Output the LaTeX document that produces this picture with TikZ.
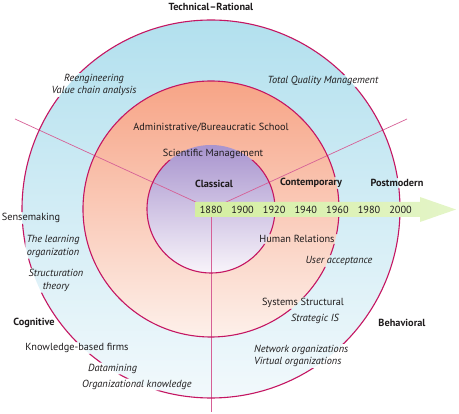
\documentclass[tikz,border=0pt]{standalone}
\usepackage{fontspec}
\setmainfont{PT Sans}
\usepackage{tikz}
\usetikzlibrary{backgrounds}

\definecolor{inkgray}{RGB}{30,27,28}
\definecolor{ringline}{RGB}{196,22,98}
\definecolor{spokepink}{RGB}{214,96,150}
\definecolor{outertop}{RGB}{178,224,238}
\definecolor{outerbot}{RGB}{242,249,252}
\definecolor{midtop}{RGB}{247,164,134}
\definecolor{midbot}{RGB}{253,240,234}
\definecolor{innertop}{RGB}{168,148,206}
\definecolor{innerbot}{RGB}{248,244,250}
\definecolor{arrowgreen}{RGB}{212,238,160}
\definecolor{arrowtip}{RGB}{228,245,200}

\begin{document}
\begin{tikzpicture}[x=1pt,y=-1pt,
    every node/.style={font=\fontsize{10.3}{12.5}\selectfont},
    lbl/.style={inner sep=1pt, text=inkgray},
    itlbl/.style={lbl, font=\fontsize{10.3}{12.5}\selectfont\itshape},
    hdlbl/.style={lbl, font=\fontsize{10.3}{12.5}\selectfont\bfseries},
    yearlbl/.style={inner sep=0pt, text=inkgray},
    ring/.style={draw=ringline, line width=1.1pt},
    spoke/.style={draw=spokepink, line width=0.7pt}]
  \useasboundingbox (0,0) rectangle (459,414);
  \coordinate (c) at (211,209);
  \coordinate (spokeleft) at (15,119);
  \coordinate (spokeright) at (407,119);
  \coordinate (spokedown) at (211,412);

  % time arrow
  \shade[left color=arrowgreen, right color=arrowtip] (195,202) -- (420,202) -- (420,197)
    -- (456,209.5) -- (420,222) -- (420,217) -- (195,217) -- cycle;
  \foreach \yr [count=\i from 0] in {1880,1900,...,2000}
    \node[yearlbl] (y\yr) at ({211+31.6*\i},209.5) {\yr};

  % labels
  \node[hdlbl] (techrat) at (211,7) {Technical--Rational};
  \node[itlbl, align=center] (reeng) at (94,85) {Reengineering\\Value chain analysis};
  \node[itlbl] (tqm) at (323,81) {Total Quality Management};
  \node[lbl] (admin) at (211,128) {Administrative/Bureaucratic School};
  \node[lbl] (sci) at (213,154) {Scientific Management};
  \node[hdlbl] (classical) at (214,184) {Classical};
  \node[hdlbl] (contemp) at (311,183) {Contemporary};
  \node[hdlbl] (postmod) at (397,183) {Postmodern};
  \node[lbl] (sense) at (31,218) {Sensemaking};
  \node[itlbl, align=center] (learn) at (53,246.5) {The learning\\organization};
  \node[itlbl, align=center] (struct) at (56,280.5) {Structuration\\theory};
  \node[hdlbl] (cognitive) at (34,323) {Cognitive};
  \node[lbl] (kbf) at (77,348) {Knowledge-based firms};
  \node[itlbl, anchor=west] (datamin) at (87,368.5) {Datamining};
  \node[itlbl, anchor=west] (orgknow) at (81,384.5) {Organizational knowledge};
  \node[lbl] (human) at (297,239) {Human Relations};
  \node[itlbl] (useracc) at (339,261) {User acceptance};
  \node[lbl] (sysstruct) at (303,303) {Systems Structural};
  \node[itlbl] (stratis) at (315,319) {Strategic IS};
  \node[hdlbl] (behav) at (402,323) {Behavioral};
  \node[itlbl, align=left, anchor=west] (netvirt) at (253,356) {Network organizations\\Virtual organizations};

  \begin{scope}[on background layer]
    \shade[top color=outertop, bottom color=outerbot] (c) circle (189pt);
    \shade[top color=midtop, bottom color=midbot] (c) circle (128pt);
    \shade[top color=innertop, bottom color=innerbot] (c) circle (64pt);
    \draw[spoke] (c) -- (spokeleft);
    \draw[spoke] (c) -- (spokeright);
    \draw[spoke] (c) -- (spokedown);
    % rings broken where the labels sit
    \begin{scope}[even odd rule]
      \clip (0,0) rectangle (459,414)
        (reeng.south west) rectangle (reeng.north east)
        (tqm.south west) rectangle (tqm.north east)
        (sci.south west) rectangle ([yshift=4pt]sci.north east)
        (contemp.south west) rectangle (contemp.north east)
        (postmod.south west) rectangle (postmod.north east)
        (sense.south west) rectangle (sense.north east)
        (learn.south west) rectangle (learn.north east)
        (struct.south west) rectangle (struct.north east)
        (kbf.south west) rectangle (kbf.north east)
        (datamin.south west) rectangle (datamin.north east)
        (orgknow.south west) rectangle (orgknow.north east)
        (human.south west) rectangle ([xshift=4pt]human.north east)
        (useracc.south west) rectangle (useracc.north east)
        (sysstruct.south west) rectangle (sysstruct.north east)
        (netvirt.south west) rectangle (netvirt.north east);
      \draw[ring] (c) circle (189pt) (c) circle (128pt) (c) circle (64pt);
    \end{scope}
  \end{scope}
\end{tikzpicture}
\end{document}
